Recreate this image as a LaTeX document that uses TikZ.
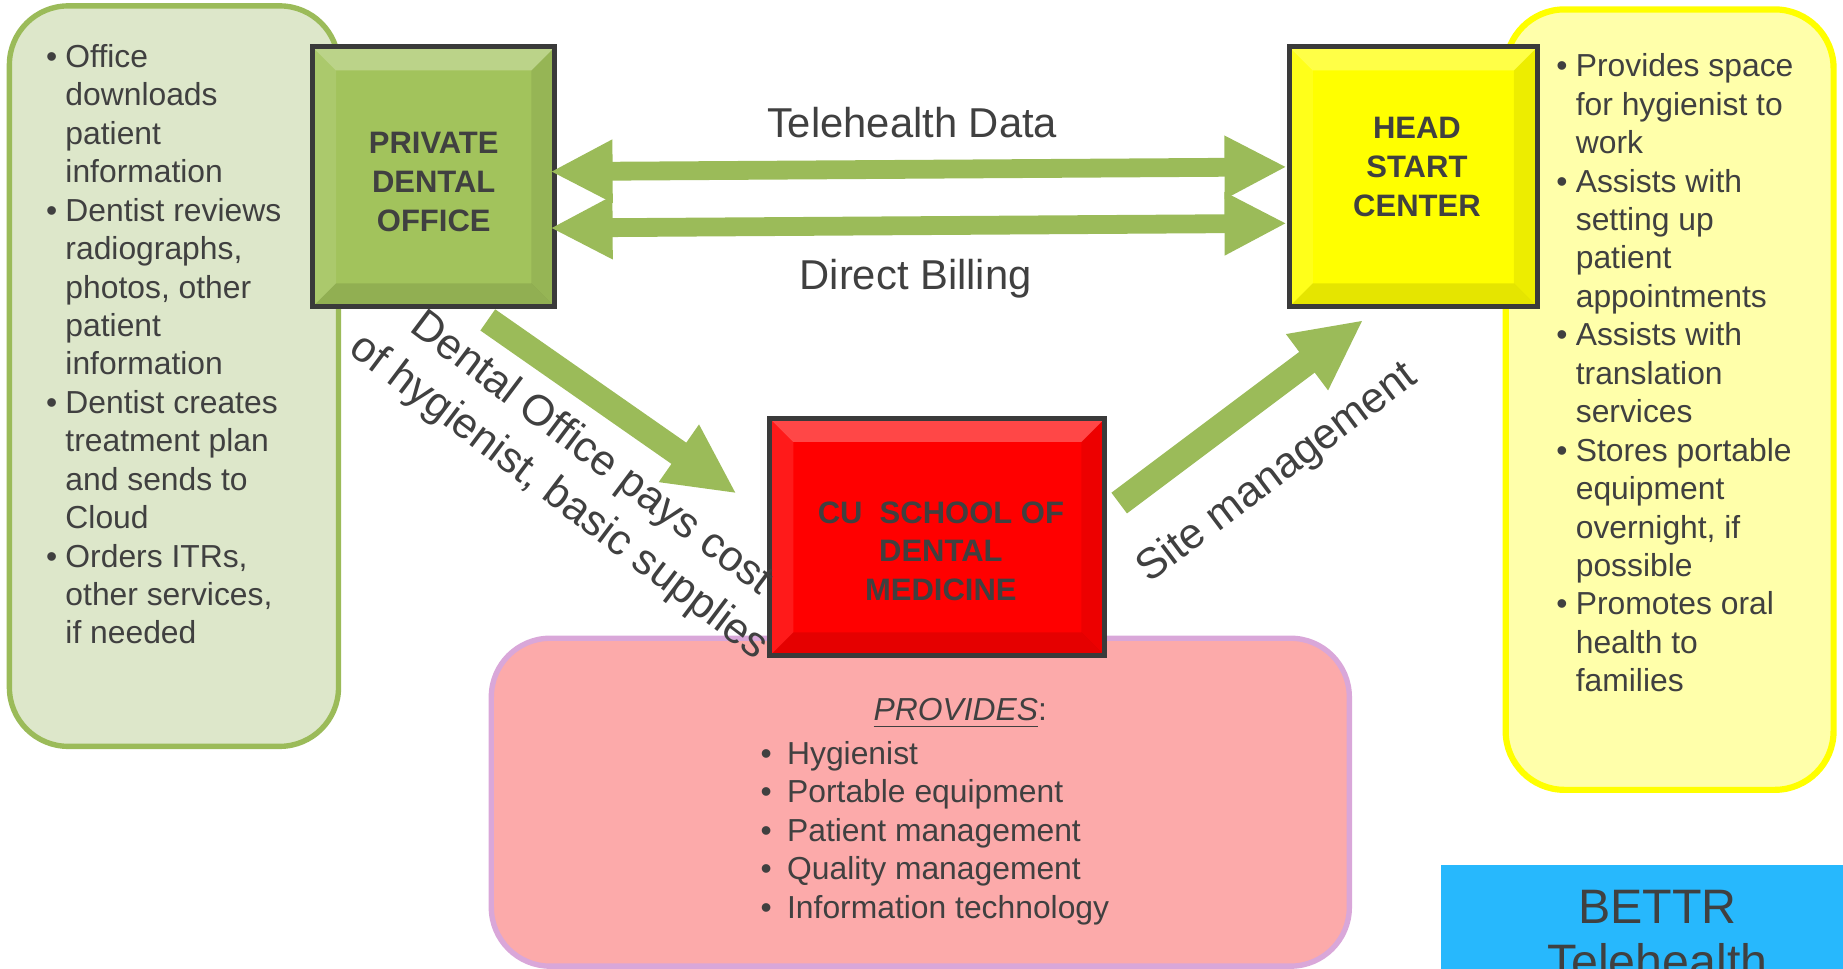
\documentclass[tikz,border=0pt]{standalone}
\usepackage{fontspec}
\setmainfont{Liberation Sans}
\usetikzlibrary{positioning,calc,arrows.meta}

\definecolor{txtgray}{HTML}{404040}
\definecolor{leafgreen}{HTML}{9BBB59}
\definecolor{palegreen}{HTML}{DDE7CA}
\definecolor{officegreen}{HTML}{A2C35C}
\definecolor{paleyellow}{HTML}{FFFFAA}
\definecolor{headyellow}{HTML}{FFFF00}
\definecolor{schoolred}{HTML}{FF0000}
\definecolor{palepink}{HTML}{FCAAAA}
\definecolor{lilac}{HTML}{D9A7D9}
\definecolor{bettrblue}{HTML}{27B8FD}
\definecolor{boxedge}{HTML}{3A3A3A}

\newcommand{\bitem}[1][0.7mm]{\llap{\textbullet\hspace{#1}}}

\begin{document}
\begin{tikzpicture}[
    x=0.01cm, y=0.01cm,
    every node/.style={text=txtgray, inner sep=0pt},
    listfont/.style={font=\fontsize{7.7}{9.3}\selectfont, align=left, anchor=north west},
    panel/.style={rounded corners=0.5cm, line width=1.3pt},
    bevelled/.style={path picture={
        \path (path picture bounding box.north west) coordinate (bv1)
              (path picture bounding box.north east) coordinate (bv2)
              (path picture bounding box.south east) coordinate (bv3)
              (path picture bounding box.south west) coordinate (bv4);
        \fill[white, opacity=.28] (bv1) -- (bv2) -- ($(bv2)+(-20,-20)$) -- ($(bv1)+(20,-20)$) -- cycle;
        \fill[white, opacity=.10] (bv1) -- (bv4) -- ($(bv4)+(20,20)$) -- ($(bv1)+(20,-20)$) -- cycle;
        \fill[black, opacity=.07] (bv2) -- (bv3) -- ($(bv3)+(-20,20)$) -- ($(bv2)+(-20,-20)$) -- cycle;
        \fill[black, opacity=.10] (bv4) -- (bv3) -- ($(bv3)+(-20,20)$) -- ($(bv4)+(20,20)$) -- cycle;
    }},
    mainbox/.style={draw=boxedge, line width=1.2pt, bevelled},
    boxlabel/.style={font=\fontsize{7.5}{9.4}\selectfont\bfseries, align=center},
    flowlabel/.style={font=\fontsize{10.1}{12}\selectfont},
    slantlabel/.style={font=\fontsize{10.4}{13.1}\selectfont, align=center},
    fatarrow/.style={leafgreen, line width=0.22cm, -{Triangle[length=0.6cm, width=0.55cm]}},
    twoway/.style={leafgreen, line width=0.16cm, {Triangle[length=0.53cm, width=0.5cm]}-{Triangle[length=0.53cm, width=0.5cm]}}
]
    \useasboundingbox (0,0) rectangle (1568,-824);
    \clip (0,0) rectangle (1568,-824);

    % Side panels
    \filldraw[panel, fill=palegreen, draw=leafgreen] (8,-5) rectangle (288,-635);
    \filldraw[panel, fill=paleyellow, draw=headyellow, line width=1.5pt] (1281,-8) rectangle (1560,-672);
    \filldraw[panel, fill=palepink, draw=lilac] (418,-543) rectangle (1148,-822);
    \fill[bettrblue] (1226,-736) rectangle (1620,-900);

    % Main boxes
    \node[mainbox, fill=officegreen, minimum width=2.06cm, minimum height=2.21cm] (pdo) at (369,-150.5) {};
    \node[mainbox, fill=headyellow, minimum width=2.11cm, minimum height=2.21cm] (hsc) at (1202.5,-150.5) {};
    \node[mainbox, fill=schoolred, minimum width=2.85cm, minimum height=2.02cm] (cu) at (797.5,-457) {};

    \node[boxlabel] (pdo-label) at ($(pdo)+(0,-4.5)$) {PRIVATE\\DENTAL\\OFFICE};
    \node[boxlabel] (hsc-label) at ($(hsc)+(3,8.5)$) {HEAD\\START\\CENTER};
    \node[boxlabel] (cu-label) at ($(cu)+(3,-12)$) {CU\ \ SCHOOL OF\\DENTAL\\MEDICINE};

    % Arrows between the boxes
    \draw[twoway] ($(pdo.east)+(-6,4.5)$) -- ($(hsc.west)+(0,8.5)$);
    \draw[twoway] ($(pdo.east)+(-6,-43.5)$) -- ($(hsc.west)+(0,-39.5)$);
    \draw[fatarrow] ($(pdo.south)+(46,-9)$) -- ($(cu.west)+(-26,37)$);
    \draw[fatarrow] ($(cu.east)+(10,29)$) -- ($(hsc.south)+(-42.5,-9)$);

    \node[flowlabel] (tele-label) at (776,-104) {Telehealth Data};
    \node[flowlabel] (bill-label) at (779,-237) {Direct Billing};
    \node[slantlabel, rotate=-37] (cost-label) at (489,-405) {Dental Office pays cost\\of hygienist, basic supplies};
    \node[slantlabel, rotate=37] (site-label) at (1087,-403) {Site management};

    % Lists
    \node[listfont] (office-list) at (55,-37) {\bitem Office\\downloads\\patient\\information\\\bitem Dentist reviews\\radiographs,\\photos, other\\patient\\information\\\bitem Dentist creates\\treatment plan\\and sends to\\Cloud\\\bitem Orders ITRs,\\other services,\\if needed};
    \node[listfont] (center-list) at (1340,-45) {\bitem Provides space\\for hygienist to\\work\\\bitem Assists with\\setting up\\patient\\appointments\\\bitem Assists with\\translation\\services\\\bitem Stores portable\\equipment\\overnight, if\\possible\\\bitem Promotes oral\\health to\\families};
    \node[font=\fontsize{7.7}{9.3}\selectfont] (provides-head) at (817,-607) {\underline{\textit{PROVIDES}}:};
    \node[listfont] (provides-list) at (669,-630) {\bitem[1.3mm]Hygienist\\\bitem[1.3mm]Portable equipment\\\bitem[1.3mm]Patient management\\\bitem[1.3mm]Quality management\\\bitem[1.3mm]Information technology};

    \node[font=\fontsize{11.7}{13.1}\selectfont, align=center, anchor=north] (bettr) at (1410,-757) {BETTR\\Telehealth};
\end{tikzpicture}
\end{document}
